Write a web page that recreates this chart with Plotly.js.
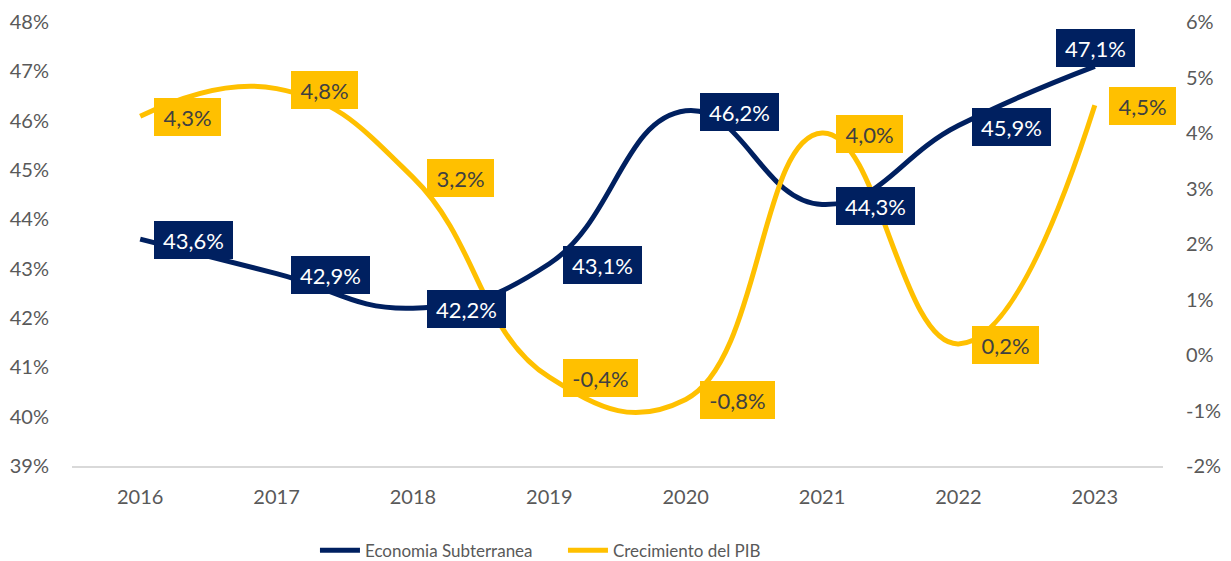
<!DOCTYPE html>
<html>
<head>
<meta charset="utf-8">
<script src="https://cdn.plot.ly/plotly-3.0.1.min.js"></script>
<style>
  html, body { margin: 0; padding: 0; background: #ffffff; }
  #chart { width: 1231px; height: 561px; }
</style>
</head>
<body>
<div id="chart"></div>
<script>
// ---- data ----
const years = ["2016", "2017", "2018", "2019", "2020", "2021", "2022", "2023"];
const economiaSubterranea = [43.6, 42.9, 42.2, 43.1, 46.2, 44.3, 45.9, 47.1];
const crecimientoPIB = [4.3, 4.8, 3.2, -0.4, -0.8, 4.0, 0.2, 4.5];
const seriesNames = ["Economia Subterranea", "Crecimiento del PIB"];
const leftTickVals = [39, 40, 41, 42, 43, 44, 45, 46, 47, 48];
const leftTickText = ["39%", "40%", "41%", "42%", "43%", "44%", "45%", "46%", "47%", "48%"];
const rightTickVals = [-2, -1, 0, 1, 2, 3, 4, 5, 6];
const rightTickText = ["-2%", "-1%", "0%", "1%", "2%", "3%", "4%", "5%", "6%"];

// ---- styles ----
const NAVY = "#002060";
const GOLD = "#FFC000";
const GREY = "#595959";
const FONT = "Lato, 'Open Sans', sans-serif";
const SMOOTH = 1.3;
const LABEL_SIZE = 22;

const fmt = v => v.toFixed(1).replace(".", ",") + "%";
const xpos = years.map((_, i) => i);

// measure label text to size the boxes
const ctx = document.createElement("canvas").getContext("2d");
ctx.font = LABEL_SIZE + "px Lato";
const boxW = t => Math.ceil(ctx.measureText(t).width) + 8;

const traces = [
  {
    x: xpos, y: economiaSubterranea, name: seriesNames[0],
    type: "scatter", mode: "lines", yaxis: "y",
    line: { color: NAVY, width: 5, shape: "spline", smoothing: SMOOTH },
    hoverinfo: "skip"
  },
  {
    x: xpos, y: crecimientoPIB, name: seriesNames[1],
    type: "scatter", mode: "lines", yaxis: "y2",
    line: { color: GOLD, width: 5, shape: "spline", smoothing: SMOOTH },
    hoverinfo: "skip"
  }
];

const annotations = [];
economiaSubterranea.forEach((v, i) => {
  const last = i === economiaSubterranea.length - 1;
  const t = fmt(v);
  annotations.push({
    x: xpos[i], y: v, xref: "x", yref: "y",
    text: t, showarrow: false, width: boxW(t), height: 28, align: "center",
    xanchor: last ? "center" : "left",
    yanchor: last ? "bottom" : "middle",
    xshift: last ? 1 : 14, yshift: last ? -1 : -1,
    bgcolor: NAVY, borderpad: 5, borderwidth: 0,
    font: { family: FONT, size: LABEL_SIZE, color: "#ffffff" }
  });
});
crecimientoPIB.forEach((v, i) => {
  const t = fmt(v);
  annotations.push({
    x: xpos[i], y: v, xref: "x", yref: "y2",
    text: t, showarrow: false, width: boxW(t), height: 28, align: "center",
    xanchor: "left", yanchor: "middle",
    xshift: 14, yshift: -1,
    bgcolor: GOLD, borderpad: 5, borderwidth: 0,
    font: { family: FONT, size: LABEL_SIZE, color: "#404040" }
  });
});

const layout = {
  width: 1231, height: 561,
  margin: { l: 72, r: 68, t: 22, b: 95, autoexpand: false },
  paper_bgcolor: "#ffffff", plot_bgcolor: "#ffffff",
  font: { family: FONT, size: 18, color: GREY },
  showlegend: true,
  legend: {
    orientation: "h", x: 0.2227, xanchor: "left", y: -0.191, yanchor: "middle",
    font: { family: FONT, size: 17, color: GREY },
    itemwidth: 40, traceorder: "normal",
    entrywidth: 193, entrywidthmode: "pixels"
  },
  xaxis: {
    range: [-0.5, 7.5], tickvals: xpos, ticktext: years,
    showgrid: false, zeroline: false,
    showline: true, linecolor: "#d9d9d9", linewidth: 2,
    ticks: "", ticklabelstandoff: 12,
    tickfont: { family: FONT, size: 20, color: GREY },
    fixedrange: true
  },
  yaxis: {
    range: [39, 48], tickvals: leftTickVals, ticktext: leftTickText,
    showgrid: false, zeroline: false, showline: false, ticks: "",
    ticklabelstandoff: 22,
    tickfont: { family: FONT, size: 20, color: GREY },
    fixedrange: true
  },
  yaxis2: {
    range: [-2, 6], tickvals: rightTickVals, ticktext: rightTickText,
    overlaying: "y", side: "right",
    showgrid: false, zeroline: false, showline: false, ticks: "",
    ticklabelstandoff: 22,
    tickfont: { family: FONT, size: 20, color: GREY },
    fixedrange: true
  },
  annotations: annotations
};

Plotly.newPlot("chart", traces, layout, { displayModeBar: false, staticPlot: true });
</script>
</body>
</html>
